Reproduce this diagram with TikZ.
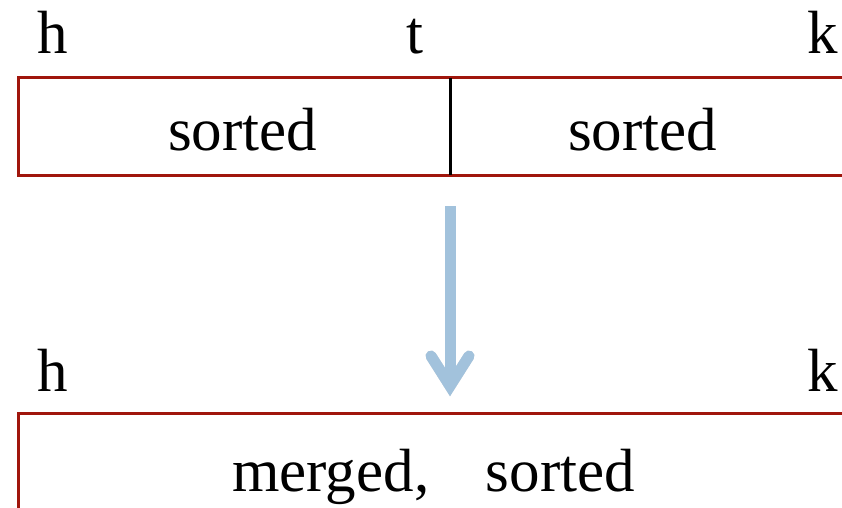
\documentclass[tikz,border=0pt]{standalone}
\usepackage{fontspec}
\setmainfont{Liberation Serif}
\usepackage{tikz}
\usetikzlibrary{positioning}

\definecolor{boxred}{RGB}{160,22,12}
\definecolor{arrowblue}{RGB}{162,194,220}

\tikzset{
	txt/.style={anchor=base west,inner sep=0pt,font=\fontsize{61}{70}\selectfont},
	boxline/.style={draw=boxred,line width=3pt},
	shaft/.style={draw=arrowblue,line width=11pt,line cap=butt},
	barb/.style={draw=arrowblue,line width=11pt,line cap=round,line join=miter}
}

\begin{document}
\begin{tikzpicture}[x=1pt,y=1pt]
	\useasboundingbox (0,0) rectangle (842,507);
	% the two halves, both sorted
	\draw[boxline] (850,429) -- (18,429) -- (18,332) -- (850,332);
	\draw[line width=3pt] (450,429) -- (450,332);
	%% the labels
	\node[txt] (h1) at (37,453) {h};
	\node[txt] (t1) at (406,453) {t};
	\node[txt] (k1) at (807,453) {k};
	\node[txt] (left) at (168,356) {sorted};
	\node[txt] (right) at (568,356) {sorted};
	% the merged segment
	\draw[boxline] (850,94) -- (18,94) -- (18,-10);
	\node[txt] (h2) at (37,116) {h};
	\node[txt] (k2) at (807,116) {k};
	\node[txt] (merged) at (232,16) {merged,\hspace{0.93em}sorted};
	% the arrow between them
	\coordinate (from) at (450,301);
	\coordinate (to) at (450,121);
	\begin{scope}[shift={(2,-3)},opacity=0.25]
		\draw[shaft,draw=gray] (from) -- (to);
		\draw[barb,draw=gray] ([xshift=-19pt,yshift=30pt]to) -- (to) -- ([xshift=19pt,yshift=30pt]to);
	\end{scope}
	\draw[shaft] (from) -- (to);
	\draw[barb] ([xshift=-19pt,yshift=30pt]to) -- (to) -- ([xshift=19pt,yshift=30pt]to);
\end{tikzpicture}
\end{document}
